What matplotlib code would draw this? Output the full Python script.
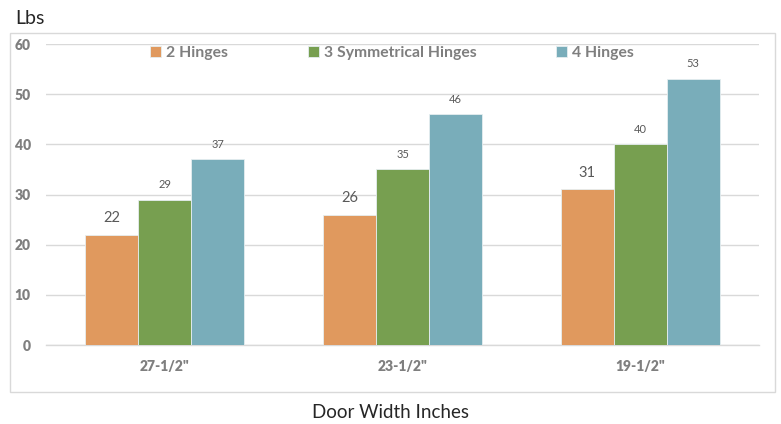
import numpy as np
import matplotlib.pyplot as plt
from matplotlib.patches import Rectangle

plt.rcParams['font.family'] = ['Lato', 'DejaVu Sans']

widths = ['27-1/2"', '23-1/2"', '19-1/2"']
series_names = ['2 Hinges', '3 Symmetrical Hinges', '4 Hinges']
two_hinges = [22, 26, 31]
three_sym = [29, 35, 40]
four_hinges = [37, 46, 53]
yticks = [0, 10, 20, 30, 40, 50, 60]

colors = ['#E0995E', '#779F50', '#79ADBA']
label_sizes = [10.5, 8, 8]
grey = '#7F7F7F'

fig = plt.figure(figsize=(7.81, 4.24), dpi=100)
ax = fig.add_axes([0.0589, 0.1863, 0.9130, 0.7099])

# chart area border
fig.patches.append(Rectangle((10 / 781, 1 - 392 / 424), 765 / 781, 359 / 424,
                             transform=fig.transFigure, fill=False,
                             edgecolor='#D9D9D9', linewidth=1))

x = np.arange(len(widths))
w = 0.223
handles = []
for i, vals in enumerate([two_hinges, three_sym, four_hinges]):
    b = ax.bar(x + (i - 1) * w, vals, w, color=colors[i],
               edgecolor='#E6EEF0', linewidth=0.6, zorder=3)
    handles.append(b)
    for xi, v in zip(x + (i - 1) * w, vals):
        ax.annotate(str(v), (xi, v), xytext=(0, 7), textcoords='offset points',
                    ha='center', va='bottom', fontsize=label_sizes[i],
                    color='#595959')

ax.set_xlim(-0.5, 2.5)
ax.set_ylim(0, 60)
ax.set_yticks(yticks, labels=[str(t) for t in yticks], fontweight='heavy', fontsize=10)
ax.set_xticks(x, labels=widths, fontweight='heavy', fontsize=10)
ax.grid(axis='y', color='#D9D9D9', linewidth=1, zorder=0)
for s in ['top', 'right', 'left']:
    ax.spines[s].set_visible(False)
ax.spines['bottom'].set_color('#D9D9D9')
ax.spines['bottom'].set_linewidth(1)
ax.tick_params(axis='both', length=0, colors=grey)
ax.tick_params(axis='y', pad=11)
ax.tick_params(axis='x', pad=11)

fig.legend(handles, series_names, loc='center', bbox_to_anchor=(392 / 781, 1 - 53 / 424),
           ncol=3, frameon=False, prop={'weight': 'bold', 'size': 11.3}, labelcolor=grey,
           handlelength=0.7, handleheight=0.7, handletextpad=0.3, columnspacing=5.1)

fig.text(15 / 781, 1 - 19 / 424, 'Lbs', fontsize=14, va='center', ha='left', color='#262626')
fig.text(391 / 781, 1 - 412 / 424, 'Door Width Inches', fontsize=13.5, va='center',
         ha='center', color='#262626')

fig.savefig('out.png', dpi=100)
